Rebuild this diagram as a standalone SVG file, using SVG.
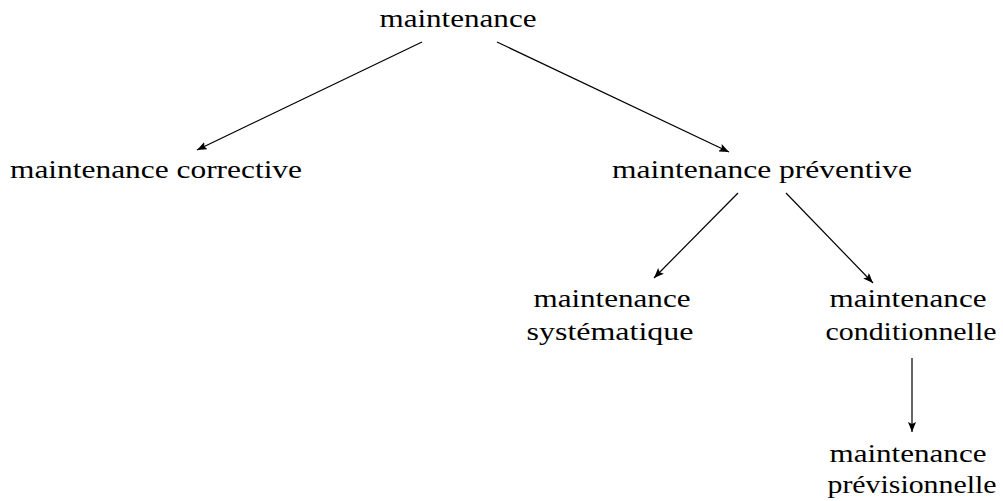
<svg xmlns="http://www.w3.org/2000/svg" width="1003" height="501" viewBox="0 0 1003 501">
<style>
text{font-family:"Liberation Serif","DejaVu Serif",serif;font-size:25px;fill:#000;text-anchor:middle}
.c line{stroke:#000;stroke-width:1.2;marker-end:url(#ah)}
</style>
<defs>
<marker id="ah" viewBox="0 0 10 8" refX="10" refY="4" markerWidth="10" markerHeight="8" markerUnits="userSpaceOnUse" orient="auto">
<path d="M0,0 L10,4 L0,8 L2,4 Z" fill="#000"/>
</marker>
</defs>
<rect width="1003" height="501" fill="#fff"/>
<g id="n-maintenance"><text x="458" y="27" textLength="157" lengthAdjust="spacingAndGlyphs">maintenance</text></g>
<g id="n-corrective"><text x="156" y="178" textLength="292" lengthAdjust="spacingAndGlyphs">maintenance corrective</text></g>
<g id="n-preventive"><text x="762" y="178" textLength="300" lengthAdjust="spacingAndGlyphs">maintenance préventive</text></g>
<g id="n-systematique"><text x="612" y="307" textLength="157" lengthAdjust="spacingAndGlyphs">maintenance</text><text x="610" y="340" textLength="167" lengthAdjust="spacingAndGlyphs">systématique</text></g>
<g id="n-conditionnelle"><text x="908" y="307" textLength="157" lengthAdjust="spacingAndGlyphs">maintenance</text><text x="911" y="340" textLength="171" lengthAdjust="spacingAndGlyphs">conditionnelle</text></g>
<g id="n-previsionnelle"><text x="908" y="462" textLength="157" lengthAdjust="spacingAndGlyphs">maintenance</text><text x="912" y="493" textLength="169" lengthAdjust="spacingAndGlyphs">prévisionnelle</text></g>
<g class="c" id="connectors">
<line x1="422" y1="42" x2="197" y2="150"/>
<line x1="497" y1="42" x2="729" y2="152"/>
<line x1="738" y1="193" x2="654" y2="278"/>
<line x1="786" y1="193" x2="873" y2="283"/>
<line x1="912" y1="358" x2="912" y2="432"/>
</g>
</svg>
